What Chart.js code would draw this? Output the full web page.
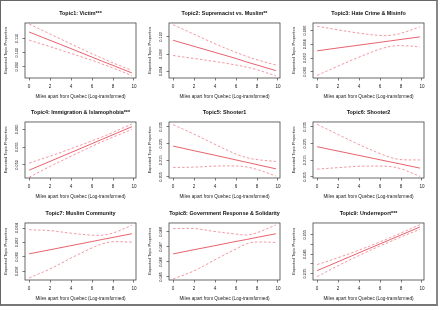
<!DOCTYPE html>
<html>
<head>
<meta charset="utf-8">
<script src="https://cdn.jsdelivr.net/npm/chart.js@4.4.0/dist/chart.umd.min.js"></script>
<style>
  body { margin: 0; background: #fff; width: 440px; height: 310px; position: relative; overflow: hidden; }
  #frame { position: absolute; left: 0; top: 0; width: 435px; height: 303px;
           border: 1px solid #666; border-right: 2px solid #888; border-bottom: 2px solid #777; }
  canvas { position: absolute; }
</style>
</head>
<body>
<div id="frame"></div>
<script>
const titles = [
  'Topic1: Victim***', 'Topic2: Supremacist vs. Muslim**', 'Topic3: Hate Crime & Misinfo',
  'Topic4: Immigration & Islamophobia***', 'Topic5: Shooter1', 'Topic6: Shooter2',
  'Topic7: Muslim Community', 'Topic8: Government Response & Solidarity', 'Topic9: Underreport***'
];
const xLabel = 'Miles apart from Quebec (Log-transformed)';
const yLabel = 'Expected Topic Proportion';

const miles = [0, 2, 4, 6, 7, 8, 9.8];
const xTicks = [0, 2, 4, 6, 8, 10];

const estimate = [
  [0.1146, 0.1087, 0.1028, 0.0968, 0.0938, 0.0909, 0.0856],
  [0.1012, 0.0998, 0.0984, 0.0970, 0.0962, 0.0955, 0.0942],
  [0.06305, 0.06347, 0.06388, 0.06429, 0.0645, 0.06471, 0.06508],
  [0.0485, 0.0510, 0.0535, 0.0560, 0.05726, 0.05851, 0.06076],
  [0.2235, 0.2207, 0.2180, 0.2152, 0.2138, 0.2124, 0.2099],
  [0.2231, 0.2205, 0.2179, 0.2153, 0.2140, 0.2127, 0.2103],
  [0.06043, 0.06099, 0.06156, 0.06213, 0.06242, 0.0627, 0.06321],
  [0.04654, 0.04682, 0.04709, 0.04737, 0.0475, 0.04764, 0.04788],
  [0.03653, 0.04109, 0.04568, 0.05025, 0.05254, 0.05483, 0.05893]
];
const upper = [
  [0.1203, 0.1132, 0.1061, 0.0992, 0.0959, 0.0927, 0.0874],
  [0.1048, 0.1026, 0.1004, 0.0984, 0.0975, 0.0967, 0.0955],
  [0.06663, 0.0661, 0.06562, 0.06528, 0.0653, 0.0656, 0.06654],
  [0.05051, 0.05244, 0.05456, 0.05678, 0.05793, 0.05918, 0.06153],
  [0.2363, 0.2306, 0.2245, 0.2187, 0.2166, 0.2154, 0.2143],
  [0.2365, 0.2304, 0.2244, 0.2190, 0.2167, 0.2154, 0.2152],
  [0.06377, 0.06364, 0.06328, 0.06301, 0.06302, 0.06331, 0.06438],
  [0.04822, 0.04823, 0.04803, 0.04786, 0.0478, 0.04795, 0.04847],
  [0.03963, 0.04316, 0.04706, 0.05128, 0.05357, 0.05586, 0.06014]
];
const lower = [
  [0.1089, 0.1042, 0.0994, 0.0945, 0.0918, 0.0891, 0.0837],
  [0.0977, 0.0970, 0.0963, 0.0955, 0.0950, 0.0944, 0.0930],
  [0.05948, 0.06083, 0.06214, 0.0633, 0.0637, 0.06381, 0.06362],
  [0.04649, 0.04957, 0.05245, 0.05524, 0.05659, 0.05784, 0.05999],
  [0.2107, 0.2109, 0.2115, 0.2116, 0.2110, 0.2095, 0.2056],
  [0.2097, 0.2106, 0.2114, 0.2115, 0.2112, 0.2099, 0.2054],
  [0.05708, 0.05834, 0.05984, 0.06125, 0.06181, 0.0621, 0.06205],
  [0.04487, 0.04541, 0.04615, 0.04687, 0.04721, 0.04733, 0.0473],
  [0.03342, 0.03903, 0.0443, 0.04921, 0.0515, 0.0538, 0.05773]
];

const yRanges = [
  [0.082, 0.121], [0.0925, 0.1052], [0.0591, 0.0671],
  [0.0463, 0.0621], [0.2044, 0.2379], [0.2044, 0.2379],
  [0.0568, 0.0647], [0.0448, 0.0486], [0.0317, 0.061]
];
const yTicks = [
  [0.09, 0.10, 0.11], [0.094, 0.098, 0.102], [0.060, 0.062, 0.064, 0.066],
  [0.050, 0.055, 0.060], [0.205, 0.215, 0.225, 0.235], [0.205, 0.215, 0.225, 0.235],
  [0.058, 0.060, 0.062, 0.064], [0.045, 0.046, 0.047, 0.048], [0.035, 0.040, 0.045, 0.050, 0.055]
];
const yTickLabels = [
  ['0.090', '0.100', '0.110'], ['0.094', '0.098', '0.102'], ['0.060', '0.062', '0.064', '0.066'],
  ['0.050', '0.055', '0.060'], ['0.205', '0.215', '0.225', '0.235'], ['0.205', '0.215', '0.225', '0.235'],
  ['0.058', '0.060', '0.062', '0.064'], ['0.045', '0.046', '0.047', '0.048'], ['0.035', '', '0.045', '', '0.055']
];

// plot box positions on the page
const boxLeft = [25, 169, 313];
const boxTop = [23, 122, 223];
const boxH = [55, 56, 57];
const boxW = 111;

const font = "'Liberation Sans', Arial, Helvetica, sans-serif";
const red = '#e23a48';
const pink = '#ec6b77';

const boxPlugin = {
  id: 'box',
  afterDraw(chart) {
    const { ctx, chartArea: a } = chart;
    ctx.save();
    ctx.strokeStyle = '#444';
    ctx.lineWidth = 0.8;
    ctx.strokeRect(a.left, a.top, a.right - a.left, a.bottom - a.top);
    ctx.restore();
  }
};

const tickGrid = { display: true, drawOnChartArea: false, drawTicks: true, tickLength: 2.5, color: '#444', lineWidth: 0.7 };

titles.forEach(function(title, i) {
  const col = i % 3, row = Math.floor(i / 3);
  const cv = document.createElement('canvas');
  cv.width = 25 + boxW + 4;
  cv.height = 23 + boxH[row] + 23;
  cv.style.left = (boxLeft[col] - 25) + 'px';
  cv.style.top = (boxTop[row] - 23) + 'px';
  document.body.appendChild(cv);

  const pts = arr => miles.map((m, j) => ({ x: m, y: arr[j] }));

  new Chart(cv.getContext('2d'), {
    type: 'line',
    data: {
      datasets: [
        { data: pts(estimate[i]), borderColor: red, borderWidth: 0.8, pointRadius: 0, tension: 0 },
        { data: pts(upper[i]), borderColor: pink, borderWidth: 0.7, borderDash: [2.5, 2], pointRadius: 0, tension: 0.35 },
        { data: pts(lower[i]), borderColor: pink, borderWidth: 0.7, borderDash: [2.5, 2], pointRadius: 0, tension: 0.35 }
      ]
    },
    options: {
      responsive: false,
      animation: false,
      layout: { padding: { left: 0, right: 4, top: 0, bottom: 0 } },
      plugins: {
        legend: { display: false },
        tooltip: { enabled: false },
        title: {
          display: true, text: title, fullSize: false, color: '#111',
          font: { size: 5.4, weight: 'bold', family: font },
          padding: { top: 10.3, bottom: 6.2 }
        }
      },
      scales: {
        x: {
          type: 'linear', min: -0.392, max: 10.192,
          afterBuildTicks: s => { s.ticks = xTicks.map(v => ({ value: v })); },
          afterFit: s => { s.height = 23; },
          grid: tickGrid,
          border: { display: false },
          ticks: { font: { size: 4.6, family: font }, color: '#222', padding: 3.2, maxRotation: 0, autoSkip: false },
          title: { display: true, text: xLabel, color: '#222', font: { size: 4.7, family: font }, padding: { top: 0, bottom: 1.2 } }
        },
        y: {
          min: yRanges[i][0], max: yRanges[i][1],
          afterBuildTicks: s => { s.ticks = yTicks[i].map(v => ({ value: v })); },
          afterFit: s => { s.width = 25; },
          grid: tickGrid,
          border: { display: false },
          ticks: {
            font: { size: 3.9, family: font }, color: '#222', padding: 0.6,
            minRotation: 90, maxRotation: 90, crossAlign: 'center', autoSkip: false,
            callback: (v, k) => yTickLabels[i][k]
          },
          title: { display: true, text: yLabel, color: '#222', font: { size: 4.0, family: font }, padding: { top: 3.3, bottom: 0 } }
        }
      }
    },
    plugins: [boxPlugin]
  });
});
</script>
</body>
</html>
